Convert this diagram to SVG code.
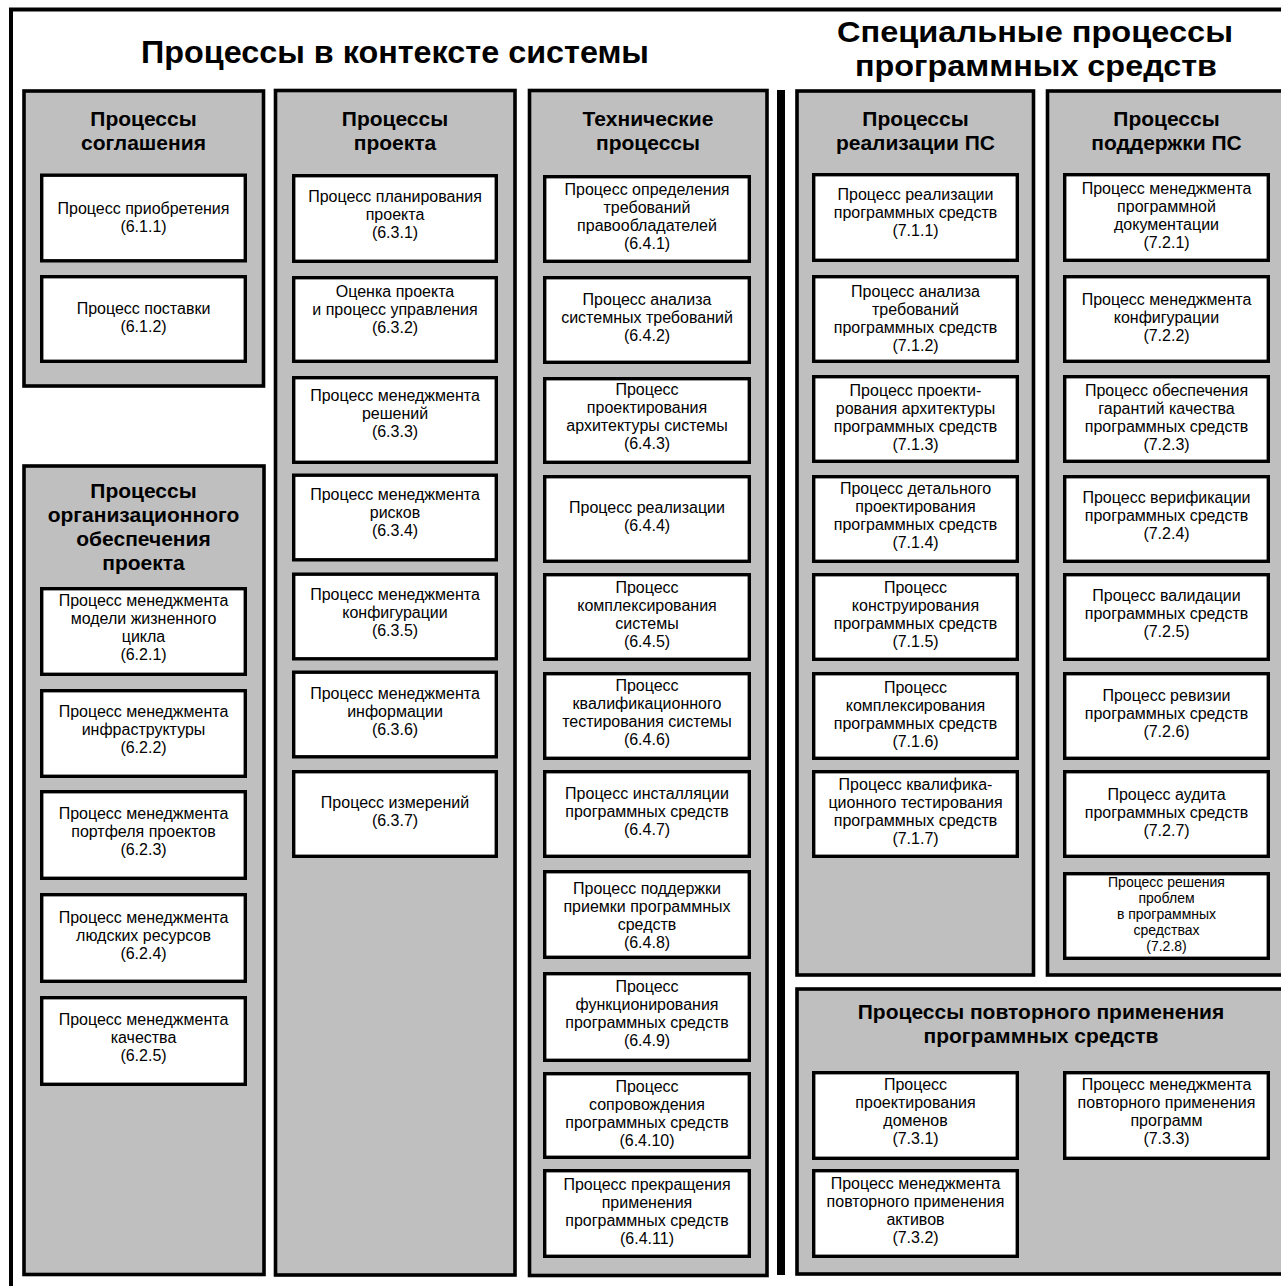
<svg xmlns="http://www.w3.org/2000/svg" width="1281" height="1286" viewBox="0 0 1281 1286">
<style>
.bg{fill:#ffffff}
.outer{fill:none;stroke:#000;stroke-width:4}
.grp{fill:#bfbfbf;stroke:#000;stroke-width:3.6}
.box{fill:#ffffff;stroke:#000;stroke-width:3.4}
.t{font-family:"Liberation Sans",Arial,sans-serif;font-size:16px;fill:#000;text-anchor:middle}
.t5{font-size:14px}
.gt{font-family:"Liberation Sans",Arial,sans-serif;font-size:21px;font-weight:bold;fill:#000;text-anchor:middle}
.mt{font-family:"Liberation Sans",Arial,sans-serif;font-size:32px;font-weight:bold;fill:#000;text-anchor:middle}
.st{font-family:"Liberation Sans",Arial,sans-serif;font-size:30px;font-weight:bold;fill:#000;text-anchor:middle}
</style>
<rect class="bg" x="0" y="0" width="1281" height="1286"/>
<rect class="outer" x="11" y="9.5" width="1300" height="1300"/>
<text class="mt" x="395" y="63" textLength="508" lengthAdjust="spacingAndGlyphs">Процессы в контексте системы</text>
<text class="st" x="1035" y="42" textLength="396" lengthAdjust="spacingAndGlyphs">Специальные процессы</text>
<text class="st" x="1036" y="76" textLength="362" lengthAdjust="spacingAndGlyphs">программных средств</text>
<rect x="777" y="90" width="8" height="1185" fill="#000"/>

<g id="g-agreement">
<rect class="grp" x="24" y="91" width="239.5" height="295"/>
<text class="gt"><tspan x="143.5" y="125.5">Процессы</tspan><tspan x="143.5" y="149.5">соглашения</tspan></text>
</g>
<g id="n611"><rect class="box" x="41.7" y="175.2" width="203.6" height="85.6"/><text class="t"><tspan x="143.5" y="213.5">Процесс приобретения</tspan><tspan x="143.5" y="231.5">(6.1.1)</tspan></text></g>
<g id="n612"><rect class="box" x="41.7" y="276.7" width="203.6" height="84.6"/><text class="t"><tspan x="143.5" y="313.5">Процесс поставки</tspan><tspan x="143.5" y="331.5">(6.1.2)</tspan></text></g>

<g id="g-org">
<rect class="grp" x="24" y="466" width="240" height="808.5"/>
<text class="gt"><tspan x="143.5" y="498">Процессы</tspan><tspan x="143.5" y="522">организационного</tspan><tspan x="143.5" y="546">обеспечения</tspan><tspan x="143.5" y="570">проекта</tspan></text>
</g>
<g id="n621"><rect class="box" x="41.7" y="588.7" width="203.6" height="85.6"/><text class="t"><tspan x="143.5" y="606">Процесс менеджмента</tspan><tspan x="143.5" y="624">модели жизненного</tspan><tspan x="143.5" y="642">цикла</tspan><tspan x="143.5" y="660">(6.2.1)</tspan></text></g>
<g id="n622"><rect class="box" x="41.7" y="690.7" width="203.6" height="85.6"/><text class="t"><tspan x="143.5" y="717">Процесс менеджмента</tspan><tspan x="143.5" y="735">инфраструктуры</tspan><tspan x="143.5" y="753">(6.2.2)</tspan></text></g>
<g id="n623"><rect class="box" x="41.7" y="791.7" width="203.6" height="86.6"/><text class="t"><tspan x="143.5" y="819">Процесс менеджмента</tspan><tspan x="143.5" y="837">портфеля проектов</tspan><tspan x="143.5" y="855">(6.2.3)</tspan></text></g>
<g id="n624"><rect class="box" x="41.7" y="894.7" width="203.6" height="86.6"/><text class="t"><tspan x="143.5" y="922.5">Процесс менеджмента</tspan><tspan x="143.5" y="940.5">людских ресурсов</tspan><tspan x="143.5" y="958.5">(6.2.4)</tspan></text></g>
<g id="n625"><rect class="box" x="41.7" y="997.7" width="203.6" height="86.6"/><text class="t"><tspan x="143.5" y="1024.5">Процесс менеджмента</tspan><tspan x="143.5" y="1042.5">качества</tspan><tspan x="143.5" y="1060.5">(6.2.5)</tspan></text></g>

<g id="g-project">
<rect class="grp" x="275.5" y="90.5" width="239.5" height="1184.5"/>
<text class="gt"><tspan x="395" y="125.5">Процессы</tspan><tspan x="395" y="149.5">проекта</tspan></text>
</g>
<g id="n631"><rect class="box" x="293.7" y="175.7" width="202.6" height="85.6"/><text class="t"><tspan x="395" y="202">Процесс планирования</tspan><tspan x="395" y="220">проекта</tspan><tspan x="395" y="238">(6.3.1)</tspan></text></g>
<g id="n632"><rect class="box" x="293.7" y="277.7" width="202.6" height="83.6"/><text class="t"><tspan x="395" y="297">Оценка проекта</tspan><tspan x="395" y="315">и процесс управления</tspan><tspan x="395" y="333">(6.3.2)</tspan></text></g>
<g id="n633"><rect class="box" x="293.7" y="377.7" width="202.6" height="84.6"/><text class="t"><tspan x="395" y="401">Процесс менеджмента</tspan><tspan x="395" y="419">решений</tspan><tspan x="395" y="437">(6.3.3)</tspan></text></g>
<g id="n634"><rect class="box" x="293.7" y="475.2" width="202.6" height="84.6"/><text class="t"><tspan x="395" y="500">Процесс менеджмента</tspan><tspan x="395" y="518">рисков</tspan><tspan x="395" y="536">(6.3.4)</tspan></text></g>
<g id="n635"><rect class="box" x="293.7" y="574.2" width="202.6" height="84.6"/><text class="t"><tspan x="395" y="599.5">Процесс менеджмента</tspan><tspan x="395" y="617.5">конфигурации</tspan><tspan x="395" y="635.5">(6.3.5)</tspan></text></g>
<g id="n636"><rect class="box" x="293.7" y="672.2" width="202.6" height="84.6"/><text class="t"><tspan x="395" y="698.5">Процесс менеджмента</tspan><tspan x="395" y="716.5">информации</tspan><tspan x="395" y="734.5">(6.3.6)</tspan></text></g>
<g id="n637"><rect class="box" x="293.7" y="771.7" width="202.6" height="84.6"/><text class="t"><tspan x="395" y="807.5">Процесс измерений</tspan><tspan x="395" y="825.5">(6.3.7)</tspan></text></g>

<g id="g-technical">
<rect class="grp" x="529.5" y="90.5" width="237.5" height="1185"/>
<text class="gt"><tspan x="648" y="125.5">Технические</tspan><tspan x="648" y="149.5">процессы</tspan></text>
</g>
<g id="n641"><rect class="box" x="544.7" y="176.7" width="204.6" height="84.6"/><text class="t"><tspan x="647" y="194.5">Процесс определения</tspan><tspan x="647" y="212.5">требований</tspan><tspan x="647" y="230.5">правообладателей</tspan><tspan x="647" y="248.5">(6.4.1)</tspan></text></g>
<g id="n642"><rect class="box" x="544.7" y="277.7" width="204.6" height="84.6"/><text class="t"><tspan x="647" y="304.5">Процесс анализа</tspan><tspan x="647" y="322.5">системных требований</tspan><tspan x="647" y="340.5">(6.4.2)</tspan></text></g>
<g id="n643"><rect class="box" x="544.7" y="378.7" width="204.6" height="83.6"/><text class="t"><tspan x="647" y="395">Процесс</tspan><tspan x="647" y="413">проектирования</tspan><tspan x="647" y="431">архитектуры системы</tspan><tspan x="647" y="449">(6.4.3)</tspan></text></g>
<g id="n644"><rect class="box" x="544.7" y="476.7" width="204.6" height="84.6"/><text class="t"><tspan x="647" y="513">Процесс реализации</tspan><tspan x="647" y="531">(6.4.4)</tspan></text></g>
<g id="n645"><rect class="box" x="544.7" y="574.7" width="204.6" height="84.6"/><text class="t"><tspan x="647" y="593">Процесс</tspan><tspan x="647" y="611">комплексирования</tspan><tspan x="647" y="629">системы</tspan><tspan x="647" y="647">(6.4.5)</tspan></text></g>
<g id="n646"><rect class="box" x="544.7" y="673.7" width="204.6" height="84.6"/><text class="t"><tspan x="647" y="691">Процесс</tspan><tspan x="647" y="709">квалификационного</tspan><tspan x="647" y="727">тестирования системы</tspan><tspan x="647" y="745">(6.4.6)</tspan></text></g>
<g id="n647"><rect class="box" x="544.7" y="771.7" width="204.6" height="84.6"/><text class="t"><tspan x="647" y="798.5">Процесс инсталляции</tspan><tspan x="647" y="816.5">программных средств</tspan><tspan x="647" y="834.5">(6.4.7)</tspan></text></g>
<g id="n648"><rect class="box" x="544.7" y="871.7" width="204.6" height="85.6"/><text class="t"><tspan x="647" y="894">Процесс поддержки</tspan><tspan x="647" y="912">приемки программных</tspan><tspan x="647" y="930">средств</tspan><tspan x="647" y="948">(6.4.8)</tspan></text></g>
<g id="n649"><rect class="box" x="544.7" y="973.7" width="204.6" height="86.6"/><text class="t"><tspan x="647" y="992">Процесс</tspan><tspan x="647" y="1010">функционирования</tspan><tspan x="647" y="1028">программных средств</tspan><tspan x="647" y="1046">(6.4.9)</tspan></text></g>
<g id="n6410"><rect class="box" x="544.7" y="1073.7" width="204.6" height="83.6"/><text class="t"><tspan x="647" y="1092">Процесс</tspan><tspan x="647" y="1110">сопровождения</tspan><tspan x="647" y="1128">программных средств</tspan><tspan x="647" y="1146">(6.4.10)</tspan></text></g>
<g id="n6411"><rect class="box" x="544.7" y="1170.7" width="204.6" height="85.6"/><text class="t"><tspan x="647" y="1189.5">Процесс прекращения</tspan><tspan x="647" y="1207.5">применения</tspan><tspan x="647" y="1225.5">программных средств</tspan><tspan x="647" y="1243.5">(6.4.11)</tspan></text></g>

<g id="g-impl">
<rect class="grp" x="797" y="91" width="236.5" height="884"/>
<text class="gt"><tspan x="915.5" y="125.5">Процессы</tspan><tspan x="915.5" y="149.5">реализации ПС</tspan></text>
</g>
<g id="n711"><rect class="box" x="813.7" y="174.7" width="203.6" height="85.6"/><text class="t"><tspan x="915.5" y="200">Процесс реализации</tspan><tspan x="915.5" y="218">программных средств</tspan><tspan x="915.5" y="236">(7.1.1)</tspan></text></g>
<g id="n712"><rect class="box" x="813.7" y="276.7" width="203.6" height="84.6"/><text class="t"><tspan x="915.5" y="297">Процесс анализа</tspan><tspan x="915.5" y="315">требований</tspan><tspan x="915.5" y="333">программных средств</tspan><tspan x="915.5" y="351">(7.1.2)</tspan></text></g>
<g id="n713"><rect class="box" x="813.7" y="376.7" width="203.6" height="84.6"/><text class="t"><tspan x="915.5" y="395.5">Процесс проекти-</tspan><tspan x="915.5" y="413.5">рования архитектуры</tspan><tspan x="915.5" y="431.5">программных средств</tspan><tspan x="915.5" y="449.5">(7.1.3)</tspan></text></g>
<g id="n714"><rect class="box" x="813.7" y="476.7" width="203.6" height="84.6"/><text class="t"><tspan x="915.5" y="494">Процесс детального</tspan><tspan x="915.5" y="512">проектирования</tspan><tspan x="915.5" y="530">программных средств</tspan><tspan x="915.5" y="548">(7.1.4)</tspan></text></g>
<g id="n715"><rect class="box" x="813.7" y="574.7" width="203.6" height="84.6"/><text class="t"><tspan x="915.5" y="593">Процесс</tspan><tspan x="915.5" y="611">конструирования</tspan><tspan x="915.5" y="629">программных средств</tspan><tspan x="915.5" y="647">(7.1.5)</tspan></text></g>
<g id="n716"><rect class="box" x="813.7" y="673.7" width="203.6" height="84.6"/><text class="t"><tspan x="915.5" y="693">Процесс</tspan><tspan x="915.5" y="711">комплексирования</tspan><tspan x="915.5" y="729">программных средств</tspan><tspan x="915.5" y="747">(7.1.6)</tspan></text></g>
<g id="n717"><rect class="box" x="813.7" y="771.7" width="203.6" height="84.6"/><text class="t"><tspan x="915.5" y="789.5">Процесс квалифика-</tspan><tspan x="915.5" y="807.5">ционного тестирования</tspan><tspan x="915.5" y="825.5">программных средств</tspan><tspan x="915.5" y="843.5">(7.1.7)</tspan></text></g>

<g id="g-support">
<rect class="grp" x="1047.5" y="91" width="260" height="884"/>
<text class="gt"><tspan x="1166.5" y="125.5">Процессы</tspan><tspan x="1166.5" y="149.5">поддержки ПС</tspan></text>
</g>
<g id="n721"><rect class="box" x="1064.7" y="174.7" width="203.6" height="85.6"/><text class="t"><tspan x="1166.5" y="194">Процесс менеджмента</tspan><tspan x="1166.5" y="212">программной</tspan><tspan x="1166.5" y="230">документации</tspan><tspan x="1166.5" y="248">(7.2.1)</tspan></text></g>
<g id="n722"><rect class="box" x="1064.7" y="276.7" width="203.6" height="84.6"/><text class="t"><tspan x="1166.5" y="305">Процесс менеджмента</tspan><tspan x="1166.5" y="323">конфигурации</tspan><tspan x="1166.5" y="341">(7.2.2)</tspan></text></g>
<g id="n723"><rect class="box" x="1064.7" y="376.7" width="203.6" height="84.6"/><text class="t"><tspan x="1166.5" y="395.5">Процесс обеспечения</tspan><tspan x="1166.5" y="413.5">гарантий качества</tspan><tspan x="1166.5" y="431.5">программных средств</tspan><tspan x="1166.5" y="449.5">(7.2.3)</tspan></text></g>
<g id="n724"><rect class="box" x="1064.7" y="476.7" width="203.6" height="84.6"/><text class="t"><tspan x="1166.5" y="503">Процесс верификации</tspan><tspan x="1166.5" y="521">программных средств</tspan><tspan x="1166.5" y="539">(7.2.4)</tspan></text></g>
<g id="n725"><rect class="box" x="1064.7" y="574.7" width="203.6" height="84.6"/><text class="t"><tspan x="1166.5" y="601">Процесс валидации</tspan><tspan x="1166.5" y="619">программных средств</tspan><tspan x="1166.5" y="637">(7.2.5)</tspan></text></g>
<g id="n726"><rect class="box" x="1064.7" y="673.7" width="203.6" height="84.6"/><text class="t"><tspan x="1166.5" y="701">Процесс ревизии</tspan><tspan x="1166.5" y="719">программных средств</tspan><tspan x="1166.5" y="737">(7.2.6)</tspan></text></g>
<g id="n727"><rect class="box" x="1064.7" y="771.7" width="203.6" height="84.6"/><text class="t"><tspan x="1166.5" y="799.5">Процесс аудита</tspan><tspan x="1166.5" y="817.5">программных средств</tspan><tspan x="1166.5" y="835.5">(7.2.7)</tspan></text></g>
<g id="n728"><rect class="box" x="1064.7" y="873.7" width="203.6" height="84.6"/><text class="t t5"><tspan x="1166.5" y="887">Процесс решения</tspan><tspan x="1166.5" y="903">проблем</tspan><tspan x="1166.5" y="919">в программных</tspan><tspan x="1166.5" y="935">средствах</tspan><tspan x="1166.5" y="951">(7.2.8)</tspan></text></g>

<g id="g-reuse">
<rect class="grp" x="797" y="989" width="510" height="285"/>
<text class="gt"><tspan x="1041" y="1019">Процессы повторного применения</tspan><tspan x="1041" y="1043">программных средств</tspan></text>
</g>
<g id="n731"><rect class="box" x="813.7" y="1072.7" width="203.6" height="85.6"/><text class="t"><tspan x="915.5" y="1090">Процесс</tspan><tspan x="915.5" y="1108">проектирования</tspan><tspan x="915.5" y="1126">доменов</tspan><tspan x="915.5" y="1144">(7.3.1)</tspan></text></g>
<g id="n732"><rect class="box" x="813.7" y="1170.7" width="203.6" height="85.6"/><text class="t"><tspan x="915.5" y="1188.5">Процесс менеджмента</tspan><tspan x="915.5" y="1206.5">повторного применения</tspan><tspan x="915.5" y="1224.5">активов</tspan><tspan x="915.5" y="1242.5">(7.3.2)</tspan></text></g>
<g id="n733"><rect class="box" x="1064.7" y="1072.7" width="203.6" height="85.6"/><text class="t"><tspan x="1166.5" y="1090">Процесс менеджмента</tspan><tspan x="1166.5" y="1108">повторного применения</tspan><tspan x="1166.5" y="1126">программ</tspan><tspan x="1166.5" y="1144">(7.3.3)</tspan></text></g>
</svg>
